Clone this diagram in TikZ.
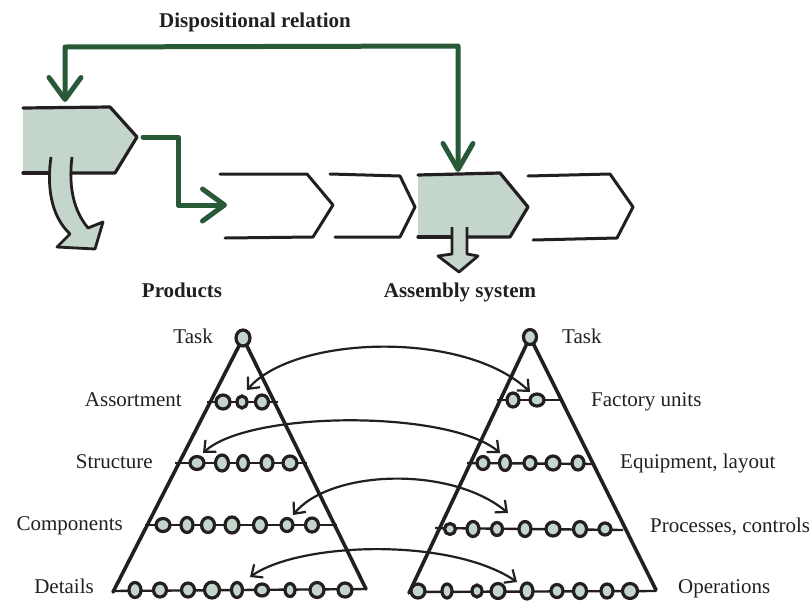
\documentclass[tikz,border=0pt]{standalone}
\usepackage{fontspec}
\setmainfont{Liberation Serif}
\usetikzlibrary{arrows.meta,shapes.geometric}
\definecolor{ink}{RGB}{35,31,32}
\definecolor{sage}{RGB}{196,214,204}
\definecolor{leaf}{RGB}{40,90,56}
\begin{document}
\begin{tikzpicture}[x=1pt,y=-1pt,
  txt/.style={font=\fontsize{21}{25}\selectfont, inner sep=0pt, text=ink},
  bold/.style={font=\fontsize{21}{25}\selectfont\bfseries, inner sep=0pt, text=ink},
  flow/.style={draw=leaf, line width=5pt, line join=round, line cap=round,
    -{Straight Barb[length=22pt,width=32pt,line cap=round,line join=round]}},
  outline/.style={draw=ink, line width=3pt, line join=round, line cap=round},
  side/.style={draw=ink, line width=3.6pt, line join=round, line cap=round},
  level/.style={draw=ink, line width=2.4pt},
  dot/.style={ellipse, draw=ink, fill=sage, line width=3.2pt, inner sep=0pt},
  twoway/.style={draw=ink, line width=2.2pt,
    {Straight Barb[length=9pt,width=16pt]}-{Straight Barb[length=9pt,width=16pt]}}
]
\useasboundingbox (0,0) rectangle (811,603);

% ---------- process chain ----------
% first stage (products), filled
\fill[sage] (23,108) -- (110,107) -- (137,137) -- (115,173) -- (23,173) -- cycle;
\draw[outline, line width=3.2pt] (23,108) -- (110,107) -- (137,137) -- (115,173) -- (72,173);
\draw[outline, line width=3.2pt] (51,173) -- (23,173);
% bent output arrow
\filldraw[fill=sage, draw=ink, line width=2.8pt, line join=round]
  (51,157) .. controls (47,185) and (50,215) .. (70,234) -- (57,247) -- (95,249)
  -- (103,222) -- (88,228) .. controls (75,212) and (68,190) .. (72,157);
\coordinate (prodOut) at (143,137);

% empty stages
\draw[outline] (220,174) -- (307,174) -- (333,205) -- (313,237) -- (225,238);
\coordinate (stageIn) at (227,205);
\draw[outline] (330,174) -- (400,176) -- (415,207) -- (400,237) -- (335,237);

% assembly stage, filled
\fill[sage] (418,175) -- (500,173) -- (528,207) -- (510,237) -- (418,237) -- cycle;
\draw[outline, line width=3.2pt] (418,175) -- (500,173) -- (528,207) -- (510,237) -- (467,237);
\draw[outline, line width=3.2pt] (452,237) -- (418,237);
\filldraw[fill=sage, draw=ink, line width=2.8pt, line join=round]
  (452,227) -- (452,254) -- (438,256) -- (459,272) -- (478,256) -- (467,254) -- (467,227);
\coordinate (asmTop) at (458,172);
\coordinate (prodTop) at (65,102);

\draw[outline] (528,176) -- (610,174) -- (633,207) -- (617,238) -- (533,240);

% green relations
\draw[flow] (prodOut) -- (178,137) -- (178,205) -- (stageIn);
\draw[flow, {Straight Barb[length=22pt,width=32pt,line cap=round,line join=round]}-{Straight Barb[length=26pt,width=30pt,line cap=round,line join=round]}]
  (prodTop) -- (65,47) -- (458,46) -- (asmTop);

% top labels
\node[bold, anchor=base] (disp) at (255,27) {Dispositional relation};
\node[bold, anchor=base] (prod) at (182,297) {Products};
\node[bold, anchor=base] (asm) at (460,297) {Assembly system};

% ---------- left pyramid (product) ----------
\draw[level] (207,402) -- (278,402);
\draw[level] (175,463) -- (307,463);
\draw[level] (145,525) -- (337,525);
\draw[level] (113,591) -- (366,589);
\draw[side] (113,592) -- (243,338) -- (366,589);

\node[dot, minimum width=14pt, minimum height=16pt] (LT) at (243,338) {};
\foreach \x/\w/\h [count=\i] in {223/14/14, 242/10/12, 262/13/14}
  \node[dot, minimum width=\w pt, minimum height=\h pt] (La\i) at (\x,402) {};
\foreach \x/\w/\h [count=\i] in {197/14/13, 222/13/16, 243/11/15, 267/12/15, 290/14/14}
  \node[dot, minimum width=\w pt, minimum height=\h pt] (Ls\i) at (\x,463) {};
\foreach \x/\w/\h [count=\i] in {163/14/13, 187/12/15, 208/13/15, 232/14/16, 260/13/15, 287/12/13, 312/13/14}
  \node[dot, minimum width=\w pt, minimum height=\h pt] (Lc\i) at (\x,525) {};
\foreach \x/\w/\h [count=\i] in {135/12/15, 160/13/14, 188/13/14, 212/15/16, 237/11/15, 262/13/12, 290/10/13, 317/14/15, 345/14/14}
  \node[dot, minimum width=\w pt, minimum height=\h pt] (Ld\i) at (\x,590) {};

\node[txt, anchor=base east] (lt) at (213,343) {Task};
\node[txt, anchor=base east] (la) at (182,406) {Assortment};
\node[txt, anchor=base east] (ls) at (153,468) {Structure};
\node[txt, anchor=base east] (lc) at (123,530) {Components};
\node[txt, anchor=base east] (ld) at (94,593) {Details};

% ---------- right pyramid (assembly system) ----------
\draw[level] (497,400) -- (563,400);
\draw[level] (467,463) -- (595,464);
\draw[level] (435,528) -- (623,530);
\draw[level] (409,592) -- (656,591);
\draw[side] (409,593) -- (530,337) -- (656,590);

\node[dot, minimum width=13pt, minimum height=15pt] (RT) at (530,337) {};
\foreach \x/\w/\h [count=\i] in {513/12/14, 537/14/12}
  \node[dot, minimum width=\w pt, minimum height=\h pt] (Rf\i) at (\x,400) {};
\foreach \x/\w/\h [count=\i] in {483/12/13, 505/11/15, 530/12/13, 553/14/14, 578/12/14}
  \node[dot, minimum width=\w pt, minimum height=\h pt] (Re\i) at (\x,463) {};
\foreach \x/\w/\h [count=\i] in {450/11/11, 473/12/15, 497/11/13, 525/12/15, 553/14/14, 580/13/15, 605/12/12}
  \node[dot, minimum width=\w pt, minimum height=\h pt] (Rp\i) at (\x,529) {};
\foreach \x/\w/\h [count=\i] in {418/14/14, 447/10/14, 477/10/12, 498/14/15, 527/12/16, 557/12/13, 580/13/15, 607/12/14, 630/15/15}
  \node[dot, minimum width=\w pt, minimum height=\h pt] (Ro\i) at (\x,591) {};

\node[txt, anchor=base west] (rt) at (562,343) {Task};
\node[txt, anchor=base west] (rf) at (591,406) {Factory units};
\node[txt, anchor=base west] (re) at (620,468) {Equipment, layout};
\node[txt, anchor=base west] (rp) at (650,532) {Processes, controls};
\node[txt, anchor=base west] (ro) at (678,593) {Operations};

% ---------- level correspondences ----------
\coordinate (a1) at (247,390); \coordinate (b1) at (530,392);
\coordinate (a2) at (203,453); \coordinate (b2) at (500,453);
\coordinate (a3) at (293,515); \coordinate (b3) at (508,513);
\coordinate (a4) at (250,577); \coordinate (b4) at (517,582);
\draw[twoway] (a1) .. controls (295,335) and (465,330) .. (b1);
\draw[twoway] (a2) .. controls (250,410) and (450,410) .. (b2);
\draw[twoway] (a3) .. controls (330,470) and (450,465) .. (b3);
\draw[twoway] (a4) .. controls (300,542) and (450,537) .. (b4);
\end{tikzpicture}
\end{document}
